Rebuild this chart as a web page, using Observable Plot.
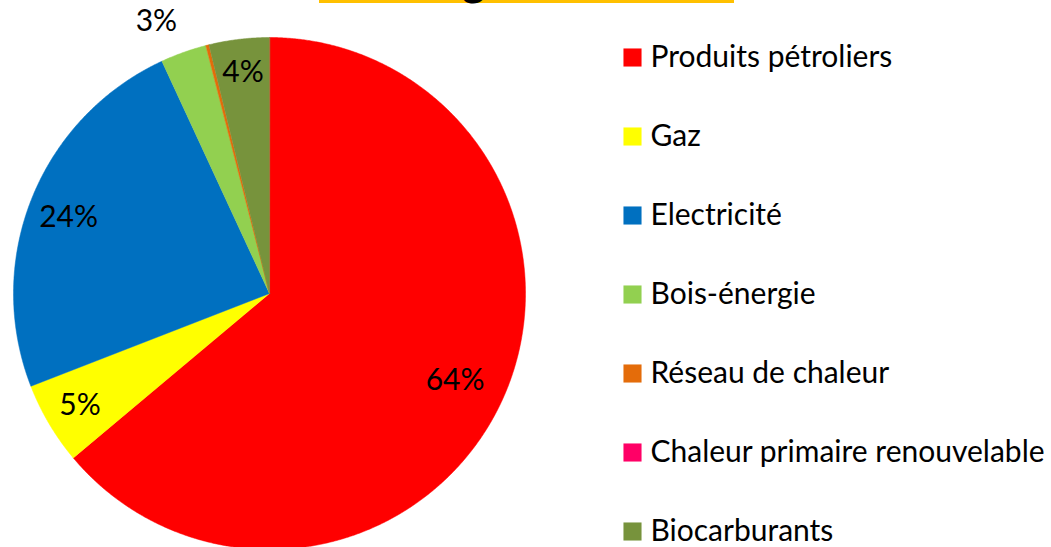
<!DOCTYPE html>
<html><head><meta charset="utf-8">
<script src="https://cdn.jsdelivr.net/npm/d3@7"></script>
<script src="https://cdn.jsdelivr.net/npm/@observablehq/plot@0.6"></script>
<style>
html,body{margin:0;padding:0;background:#fff;overflow:hidden}
#wrap{position:relative;width:1051px;height:547px;overflow:hidden}
#wrap svg{position:absolute;left:0;top:0}
#titlebar{position:absolute;left:319px;top:0;width:415px;height:3px;background:#FFC000;z-index:2}
#titleg{position:absolute;left:462px;top:-43px;font:bold 44px Lato;line-height:44px;color:#000;z-index:3}
</style></head><body>
<div id="wrap"></div>
<script>
// Data
const categories = ["Produits pétroliers", "Gaz", "Electricité", "Bois-énergie", "Réseau de chaleur", "Chaleur primaire renouvelable", "Biocarburants"];
const values = [63.9, 5.2, 24.0, 2.9, 0.2, 0.0, 3.8];
const labels = ["64%", "5%", "24%", "3%", "", "", "4%"];
const colors = ["#FF0000", "#FFFF00", "#0070C0", "#92D050", "#E46C0A", "#FF0066", "#77933C"];
const labelRadius = [0.8, 0.86, 0.8, 1.13, 0.8, 0.8, 0.87];
const labelDx = [0, 0, -11, -16, 0, 0, 0];

const total = d3.sum(values);
let cum = 0;
const slices = categories.map((c, i) => {
  const a0 = cum / total * 2 * Math.PI;
  cum += values[i];
  const a1 = cum / total * 2 * Math.PI;
  const pts = [{x: 0, y: 0}];
  const n = Math.max(2, Math.ceil((a1 - a0) / 0.005));
  for (let k = 0; k <= n; k++) {
    const t = a0 + (a1 - a0) * k / n;
    pts.push({x: Math.sin(t), y: Math.cos(t)});
  }
  const mid = (a0 + a1) / 2;
  return {cat: c, color: colors[i], pts, label: labels[i],
          lx: Math.sin(mid) * labelRadius[i], ly: Math.cos(mid) * labelRadius[i], dx: labelDx[i], value: values[i]};
});

const pie = Plot.plot({
  width: 1051, height: 547, margin: 0,
  style: {fontFamily: "Lato", background: "transparent"},
  x: {domain: [-1, 1], range: [13, 525], axis: null},
  y: {domain: [-1, 1], range: [549, 37], axis: null},
  marks: [
    ...slices.filter(s => s.value > 0).map(s => Plot.line(s.pts, {x: "x", y: "y", curve: "linear-closed", fill: s.color, stroke: s.color, strokeWidth: 0.5})),
    ...slices.filter(s => s.label).map(s => Plot.text([s], {x: "lx", y: "ly", text: "label", dx: s.dx, fontSize: 30, fontFamily: "Lato", fill: "black"}))
  ]
});

const legend = Plot.plot({
  width: 1051, height: 547, marginLeft: 632, marginRight: 0, marginTop: 0, marginBottom: 0,
  style: {fontFamily: "Lato", background: "transparent"},
  y: {type: "point", domain: categories, range: [55, 533], padding: 0, axis: null},
  color: {domain: categories, range: colors},
  marks: [
    Plot.dot(categories, {y: d => d, frameAnchor: "left", symbol: "square", r: 10.2, fill: d => d, stroke: null}),
    Plot.text(categories, {y: d => d, text: d => d, frameAnchor: "left", textAnchor: "start", dx: 18, fontSize: 30, fontFamily: "Lato", fill: "black"})
  ]
});

const wrap = document.getElementById("wrap");
wrap.appendChild(pie);
wrap.appendChild(legend);
const bar = document.createElement("div"); bar.id = "titlebar"; wrap.appendChild(bar);
const g = document.createElement("div"); g.id = "titleg"; g.textContent = "g"; wrap.appendChild(g);
</script>
</body></html>
